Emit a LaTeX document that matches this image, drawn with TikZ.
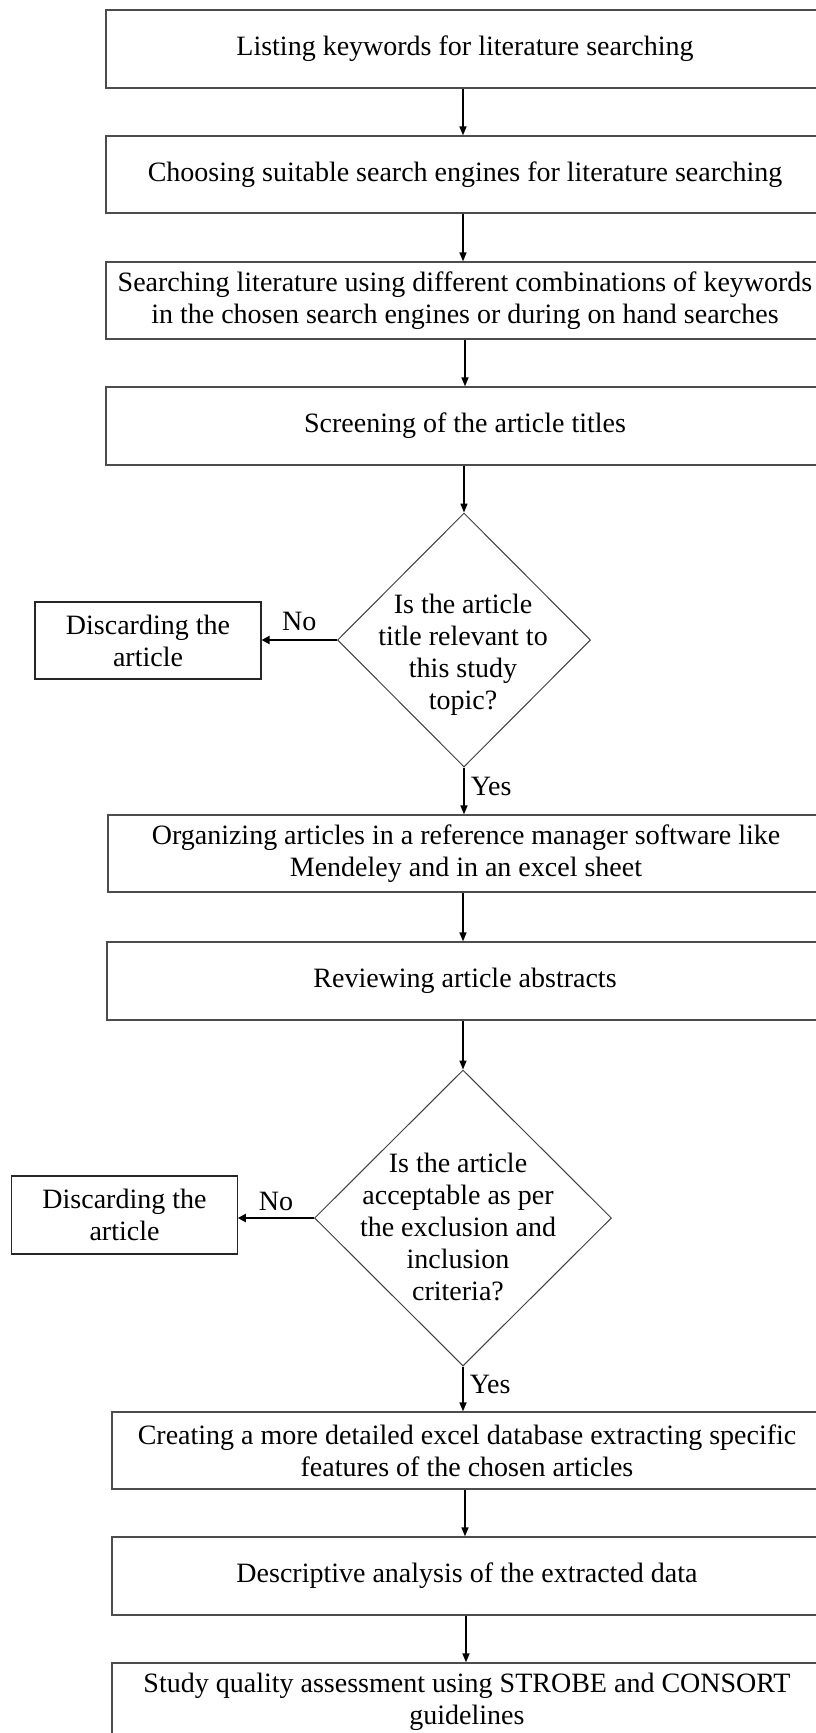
\documentclass[tikz,border=0pt]{standalone}
\usepackage{fontspec}
\setmainfont{Liberation Serif}
\usetikzlibrary{arrows.meta,shapes.geometric}
\newcommand\figfont{\fontsize{28pt}{32pt}\selectfont}
\begin{document}
\begin{tikzpicture}[x=1pt,y=-1pt,
  box/.style={draw=black!70, line width=1.3pt, minimum height=78pt, inner sep=0pt, align=center, font=\figfont},
  dbox/.style={draw=black!85, line width=1.1pt, minimum width=226pt, minimum height=77pt, inner sep=0pt, align=center, font=\figfont},
  decision/.style={draw=black!75, line width=1pt, shape=diamond, inner sep=0pt},
  dtext/.style={align=center, font=\figfont, inner sep=0pt},
  lbl/.style={font=\figfont, inner sep=0pt},
  flow/.style={draw=black, line width=1.6pt, -{Triangle[length=9pt,width=7pt]}},
  noflow/.style={draw=black, line width=2.6pt, -{Triangle[length=8pt,width=8pt]}}
]
\useasboundingbox (0,0) rectangle (816,1733);
\fill[white] (0,0) rectangle (816,1733);
\clip (0,0) rectangle (816,1733);

% main boxes
\node[box, minimum width=718pt] (b1) at (465,49) {Listing keywords for literature searching};
\node[box, minimum width=718pt, minimum height=77pt] (b2) at (465,174.5) {Choosing suitable search engines for literature searching};
\node[box, minimum width=718pt, minimum height=77pt] (b3) at (465,300.5) {Searching literature using different combinations of keywords\\in the chosen search engines or during on hand searches};
\node[box, minimum width=718pt] (b4) at (465,426) {Screening of the article titles};

% decision 1
\node[decision, minimum width=253pt, minimum height=254pt] (d1) at (464,640) {};
\node[dtext] (d1t) at (463,655) {Is the article\\title relevant to\\this study\\topic?};
\node[dbox] (x1) at (148,640.5) {Discarding the\\article};

\node[box, minimum width=716pt, minimum height=77pt] (b5) at (466,853.5) {Organizing articles in a reference manager software like\\Mendeley and in an excel sheet};
\node[box, minimum width=716pt] (b6) at (465,981) {Reviewing article abstracts};

% decision 2
\node[decision, minimum width=297pt, minimum height=296pt] (d2) at (463,1218) {};
\node[dtext] (d2t) at (458,1227) {Is the article\\acceptable as per\\the exclusion and\\inclusion\\criteria?};
\node[dbox, minimum width=225.5pt, minimum height=78pt] (x2) at (124.5,1215) {Discarding the\\article};

\node[box, minimum width=710pt, minimum height=77pt] (b7) at (467,1450.5) {Creating a more detailed excel database extracting specific\\features of the chosen articles};
\node[box, minimum width=710pt] (b8) at (467,1576) {Descriptive analysis of the extracted data};
\node[box, minimum width=710pt] (b9) at (467,1702) {Study quality assessment using STROBE and CONSORT\\guidelines};

% connectors
\draw[flow] (b1.south -| 463,0) -- (b2.north -| 463,0);
\draw[flow] (b2.south -| 463,0) -- (b3.north -| 463,0);
\draw[flow] (b3.south -| 465,0) -- (b4.north -| 465,0);
\draw[flow] (b4.south -| d1.north) -- (d1.north);
\draw[flow] (d1.south) -- (b5.north -| d1.south) node[lbl, pos=0.4, right=6pt] (y1) {Yes};
\draw[noflow] (d1.west) -- (x1.east |- d1.west) node[lbl, pos=0.5, above=8pt] (n1) {No};
\draw[flow] (b5.south -| 463,0) -- (b6.north -| 463,0);
\draw[flow] (b6.south -| d2.north) -- (d2.north);
\draw[noflow] (d2.west) -- (x2.east |- d2.west) node[lbl, pos=0.5, above=6pt] (n2) {No};
\draw[flow] (d2.south) -- (b7.north -| d2.south) node[lbl, pos=0.4, right=6pt] (y2) {Yes};
\draw[flow] (b7.south -| 465,0) -- (b8.north -| 465,0);
\draw[flow] (b8.south -| 466,0) -- (b9.north -| 466,0);
\end{tikzpicture}
\end{document}
